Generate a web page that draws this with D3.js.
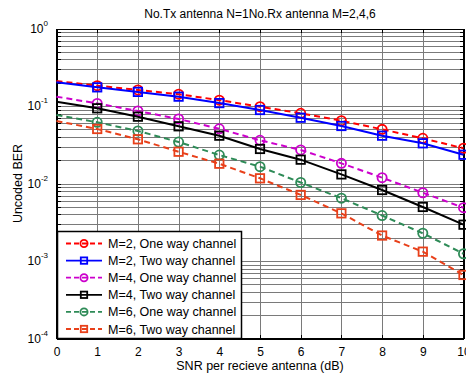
<html>
<head>
    <style>
        html, body { margin: 0; padding: 0; background: #ffffff; }
        svg { display: block; font-family: "Liberation Sans", Arial, sans-serif; }
        .grid line { stroke: #7a7a7a; stroke-width: 1; shape-rendering: crispEdges; }
        .axis path, .axis line { stroke: #000; shape-rendering: crispEdges; }
        .axis text { font-size: 12px; fill: #000; }
    </style>
</head>
<body>
<div id="chart"></div>
<script src="https://d3js.org/d3.v7.min.js"></script>
<script>
    // SNR points (dB)
    var snr = [0, 1, 2, 3, 4, 5, 6, 7, 8, 9, 10];

    // BER
    var m2One = [0.210, 0.183, 0.161, 0.142, 0.119, 0.098, 0.0805, 0.0646, 0.050, 0.0383, 0.0285];
    var m2Two = [0.202, 0.174, 0.152, 0.132, 0.109, 0.0888, 0.0706, 0.0552, 0.0414, 0.033, 0.0235];
    var m4One = [0.132, 0.108, 0.0862, 0.068, 0.0508, 0.0361, 0.0271, 0.0182, 0.0119, 0.0076, 0.00487];
    var m4Two = [0.1136, 0.0934, 0.0728, 0.0547, 0.0414, 0.0279, 0.0203, 0.0131, 0.00824, 0.00498, 0.00294];
    var m6One = [0.0765, 0.0616, 0.0476, 0.0343, 0.0233, 0.0165, 0.0103, 0.00646, 0.00386, 0.00228, 0.00124];
    var m6Two = [0.064, 0.0505, 0.0372, 0.0257, 0.018, 0.01167, 0.00712, 0.00412, 0.00213, 0.00132, 0.00066];

    var seriesNames = ["M=2, One way channel", "M=2, Two way channel", "M=4, One way channel",
        "M=4, Two way channel", "M=6, One way channel", "M=6, Two way channel"];
    var seriesColors = ["#ff0000", "#0000ff", "#cc00cc", "#000000", "#2e8b57", "#e8401a"];
    var seriesMarkers = ["circle", "square", "circle", "square", "circle", "square"];
    var seriesDashed = [true, false, true, false, true, true];
    var seriesValues = [m2One, m2Two, m4One, m4Two, m6One, m6Two];

    var xTicks = [0, 1, 2, 3, 4, 5, 6, 7, 8, 9, 10];
    var yDecades = [1, 0.1, 0.01, 0.001, 0.0001];
    var yExps = ["0", "-1", "-2", "-3", "-4"];

    var W = 466, H = 377;
    var pL = 56.5, pR = 463.5, pT = 28.5, pB = 338.5;

    var svg = d3.select("#chart").append("svg")
        .attr("width", W)
        .attr("height", H);

    var x = d3.scaleLinear().domain([0, 10]).range([pL, pR]);
    var y = d3.scaleLog().domain([1e-4, 1]).range([pB, pT]);

    // minor log values
    var minorY = [];
    for (var e = -4; e < 0; e++) {
        for (var k = 2; k <= 9; k++) minorY.push(k * Math.pow(10, e));
    }

    // grid
    var grid = svg.append("g").attr("class", "grid");
    grid.selectAll(".vg").data(xTicks).enter().append("line")
        .attr("x1", d => Math.round(x(d)) + 0.5).attr("x2", d => Math.round(x(d)) + 0.5)
        .attr("y1", pT).attr("y2", pB);
    grid.selectAll(".hg").data(minorY.concat(yDecades)).enter().append("line")
        .attr("y1", d => Math.round(y(d)) + 0.5).attr("y2", d => Math.round(y(d)) + 0.5)
        .attr("x1", pL).attr("x2", pR);

    // axes with inward ticks
    svg.append("g").attr("class", "axis")
        .attr("transform", "translate(0," + pB + ")")
        .call(d3.axisBottom(x).tickValues(xTicks).tickSizeInner(-4).tickSizeOuter(0).tickPadding(9))
        .call(g => g.select(".domain").attr("stroke-width", 2));
    svg.append("g").attr("class", "axis")
        .attr("transform", "translate(0," + pT + ")")
        .call(d3.axisTop(x).tickValues(xTicks).tickSizeInner(-4).tickSizeOuter(0).tickFormat(""));

    svg.append("g").attr("class", "axis")
        .attr("transform", "translate(" + pL + ",0)")
        .call(d3.axisLeft(y).tickValues(minorY.concat(yDecades)).tickSizeInner(-4).tickSizeOuter(0).tickFormat(""))
        .call(g => g.select(".domain").attr("stroke-width", 2));
    svg.append("g").attr("class", "axis")
        .attr("transform", "translate(" + pR + ",0)")
        .call(d3.axisRight(y).tickValues(minorY.concat(yDecades)).tickSizeInner(-4).tickSizeOuter(0).tickFormat(""))
        .call(g => g.select(".domain").attr("stroke-width", 2));

    // y decade labels
    var yl = svg.append("g").selectAll("text").data(yDecades).enter().append("text")
        .attr("x", 48)
        .attr("y", d => y(d) + 4)
        .attr("text-anchor", "end")
        .style("font-size", "12px");
    yl.append("tspan").text("10");
    yl.append("tspan").attr("dy", -7).style("font-size", "8px").text((d, i) => yExps[i]);

    // title and labels
    svg.append("text")
        .attr("x", (pL + pR) / 2).attr("y", 18)
        .attr("text-anchor", "middle")
        .style("font-size", "12px")
        .text("No.Tx antenna N=1No.Rx antenna M=2,4,6");
    svg.append("text")
        .attr("x", (pL + pR) / 2).attr("y", 370)
        .attr("text-anchor", "middle")
        .style("font-size", "12.5px")
        .text("SNR per recieve antenna (dB)");
    svg.append("text")
        .attr("transform", "translate(22," + (pT + pB) / 2 + ") rotate(-90)")
        .attr("text-anchor", "middle")
        .style("font-size", "12.5px")
        .text("Uncoded BER");

    var line = d3.line().x((d, i) => x(snr[i])).y(d => y(d));

    function drawMarker(g, type, cx, cy, r, color) {
        if (type === "circle") {
            g.append("circle").attr("cx", cx).attr("cy", cy).attr("r", r)
                .attr("fill", "none").attr("stroke", color).attr("stroke-width", 1.8);
        } else {
            g.append("rect").attr("x", cx - r).attr("y", cy - r)
                .attr("width", 2 * r).attr("height", 2 * r)
                .attr("fill", "none").attr("stroke", color).attr("stroke-width", 1.8);
        }
    }

    var plot = svg.append("g");
    seriesValues.forEach(function (vals, s) {
        plot.append("path")
            .attr("d", line(vals))
            .attr("fill", "none")
            .attr("stroke", seriesColors[s])
            .attr("stroke-width", 2)
            .attr("stroke-dasharray", seriesDashed[s] ? "6,4" : null);
        vals.forEach(function (v, i) {
            if (snr[i] === 0) return;
            drawMarker(plot, seriesMarkers[s], x(snr[i]), y(v), seriesMarkers[s] === "circle" ? 4.6 : 4.2, seriesColors[s]);
        });
    });

    // legend
    var lg = svg.append("g");
    lg.append("rect")
        .attr("x", 57.5).attr("y", 231.5).attr("width", 184).attr("height", 107)
        .attr("fill", "#fff").attr("stroke", "#000").attr("stroke-width", 1.5);
    seriesNames.forEach(function (name, s) {
        var ly = 243.5 + s * 17.1;
        lg.append("line")
            .attr("x1", 66).attr("x2", 102).attr("y1", ly).attr("y2", ly)
            .attr("stroke", seriesColors[s]).attr("stroke-width", 1.8)
            .attr("stroke-dasharray", seriesDashed[s] ? "5,3" : null);
        drawMarker(lg, seriesMarkers[s], 84, ly, seriesMarkers[s] === "circle" ? 3.6 : 3.2, seriesColors[s]);
        lg.append("text")
            .attr("x", 108).attr("y", ly + 4.5)
            .style("font-size", "12.5px")
            .text(name);
    });
</script>
</body>
</html>
